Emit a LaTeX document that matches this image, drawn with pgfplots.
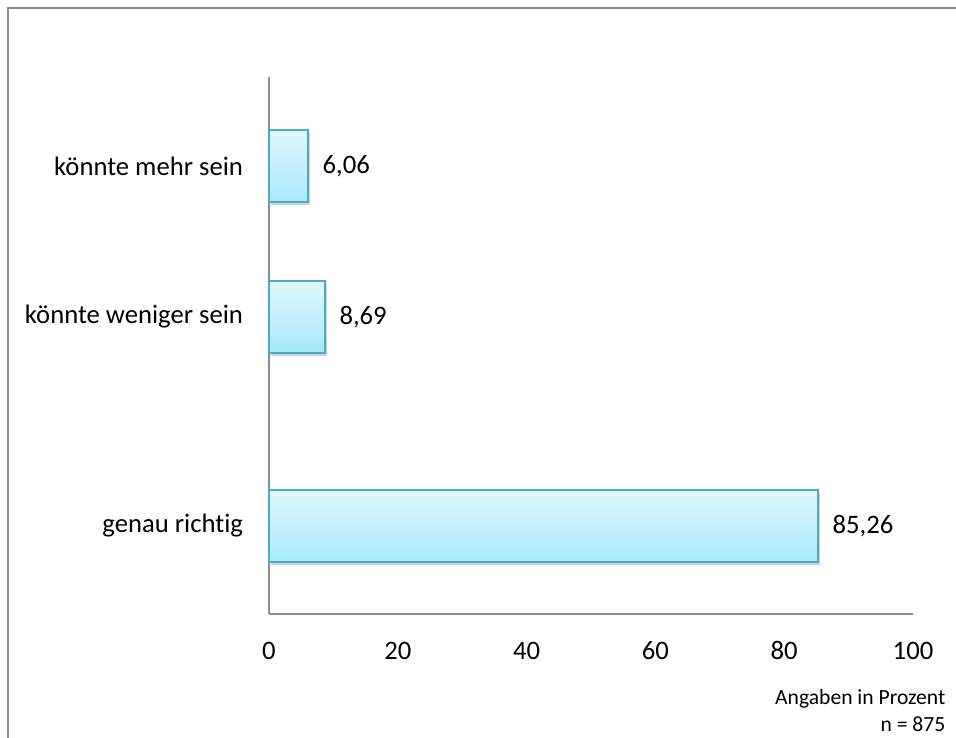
\documentclass[border=0pt]{standalone}
\usepackage{fontspec}
\setmainfont{Carlito}[Ligatures=NoCommon]
\usepackage{pgfplots}
\pgfplotsset{compat=1.18}
\definecolor{barline}{HTML}{4BACC6}
\definecolor{bartop}{HTML}{E2F8FE}
\definecolor{barbot}{HTML}{A6E8FA}
\definecolor{framegray}{HTML}{8C8C8C}

\pgfplotsset{
  bluebar/.style={xbar, bar width=72, bar shift=0pt, draw=barline, line width=1.2pt,
    top color=bartop, bottom color=barbot,
    preaction={fill=black, opacity=0.18, draw=none,
      transform canvas={xshift=1.2pt, yshift=-2.6pt}},
    nodes near coords,
    nodes near coords style={anchor=west, xshift=7pt, black,
      font=\fontsize{20}{22}\selectfont,
      /pgf/number format/.cd, fixed, fixed zerofill, precision=2, use comma}},
}

\begin{document}
\begin{tikzpicture}[x=0.75pt,y=0.75pt]
\useasboundingbox (0,0) rectangle (956,-738);
% outer chart frame (only left and top visible)
\draw[framegray, line width=1.5pt] (8,-738) -- (8,-8) -- (956,-8);

\begin{axis}[
  at={(201.75pt,-460.5pt)}, anchor=south west,
  scale only axis,
  width=483pt, height=402.75pt,
  xmin=0, xmax=100,
  ymin=0, ymax=537,
  xtick={0,20,...,100},
  ytick={88,297,448},
  yticklabels={genau richtig, könnte weniger sein, könnte mehr sein},
  major tick length=0pt,
  axis x line=bottom, axis y line=left,
  axis line style={-, framegray, line width=1pt},
  tick label style={font=\fontsize{20}{22}\selectfont, black},
  /pgf/number format/assume math mode=true,
  xticklabel style={yshift=-24pt, text height=1.4ex, text depth=0pt},
  yticklabel style={xshift=-16pt},
  clip=false,
]
\addplot[bluebar] coordinates {(85.26,88)};
\addplot[bluebar] coordinates {(8.69,297)};
\addplot[bluebar] coordinates {(6.06,448)};
\end{axis}

\node[anchor=east, font=\fontsize{16.2}{18}\selectfont] at (950,-699) {Angaben in Prozent};
\node[anchor=east, font=\fontsize{16.2}{18}\selectfont] at (950,-724) {n = 875};
\end{tikzpicture}
\end{document}
